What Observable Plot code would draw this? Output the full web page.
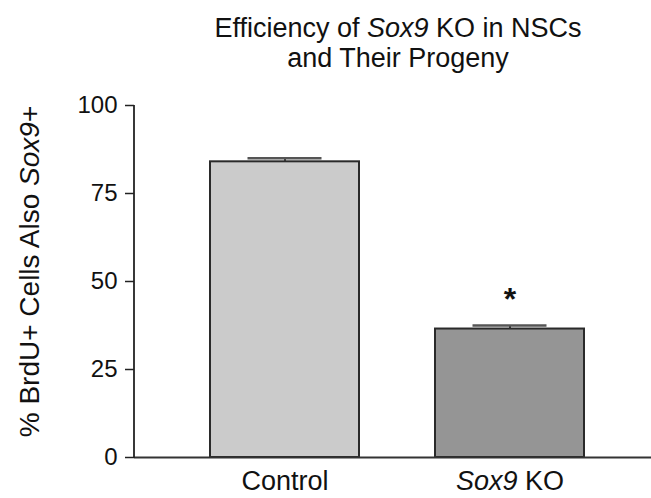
<!DOCTYPE html>
<html>
<head>
<meta charset="utf-8">
<script src="https://cdn.jsdelivr.net/npm/d3@7"></script>
<script src="https://cdn.jsdelivr.net/npm/@observablehq/plot@0.6"></script>
<style>
  html, body { margin: 0; padding: 0; background: #fff; }
  #wrap { width: 651px; height: 498px; position: relative; overflow: hidden; font-family: "Liberation Sans", Arial, sans-serif; }
  #title { box-sizing: border-box; height: 80px; margin-left: 145px; width: 506px; padding-top: 13px;
           text-align: center; font-size: 27px; line-height: 30px; color: #111; }
  #title i { font-style: italic; }
</style>
</head>
<body>
<div id="wrap">
  <div id="title">Efficiency of <i>Sox9</i> KO in NSCs<br>and Their Progeny</div>
  <div id="chart"></div>
</div>
<script>
// Percentage of BrdU+ cells that are also Sox9+, mean ± SEM
const groups = ["Control", "Sox9 KO"];
const means = [84, 36.5];
const sems = [1, 1];
const fills = ["#cbcbcb", "#959595"];
const significance = ["", "*"];
const yTicks = [0, 25, 50, 75, 100];
const yLabel = "% BrdU+ Cells Also Sox9+";

const rows = groups.map((g, i) => ({
  group: g, mean: means[i], sem: sems[i], fill: fills[i], sig: significance[i]
}));

const plot = Plot.plot({
  width: 651,
  height: 418,
  marginTop: 25,
  marginBottom: 41,
  marginLeft: 134,
  marginRight: 0,
  style: { fontFamily: "Liberation Sans, Arial, sans-serif", color: "#222", background: "#fff" },
  x: { domain: groups, range: [134, 660], padding: 0.336 },
  y: { domain: [0, 100] },
  marks: [
    Plot.barY(rows, { x: "group", y: "mean", fill: "fill", stroke: "#2a2a2a", strokeWidth: 2 }),
    Plot.ruleX(rows, { x: "group", y1: "mean", y2: d => d.mean + d.sem, stroke: "#333", strokeWidth: 2 }),
    Plot.tickY(rows, { x: "group", y: d => d.mean + d.sem, stroke: "#555", strokeWidth: 2.5, insetLeft: 37.5, insetRight: 37.5 }),
    Plot.text(rows.filter(d => d.sig), { x: "group", y: d => d.mean + d.sem, text: "sig", dy: -26, fontSize: 32, fontWeight: "bold", fill: "#111" }),
    Plot.axisY({ ticks: yTicks, tickSize: 9, tickPadding: 8, fontSize: 24, label: null, stroke: "#222", strokeWidth: 1.5, fill: "#111" }),
    Plot.axisX({ tickSize: 0, tickPadding: 13, fontSize: 27, label: null, fill: "#111" }),
    Plot.ruleY([0], { stroke: "#333", strokeWidth: 2 }),
    Plot.text([yLabel], { frameAnchor: "left", textAnchor: "middle", rotate: -90, dx: -104, dy: -10, fontSize: 28, fill: "#111" })
  ]
});

document.getElementById("chart").appendChild(plot);

// Vertical axis line along the left edge of the frame, spanning the y domain
const ys = plot.scale("y");
d3.select(plot).append("line")
  .attr("x1", 134).attr("x2", 134)
  .attr("y1", ys.apply(ys.domain[0]) + 1).attr("y2", ys.apply(ys.domain[1]))
  .attr("stroke", "#222").attr("stroke-width", 1.8);

// Italicise the gene name wherever it appears in SVG text
d3.select(plot).selectAll("text").each(function () {
  const el = d3.select(this);
  if (el.selectAll("tspan").size() > 0) return;
  const t = el.text();
  if (!t.includes("Sox9")) return;
  const [before, after] = t.split("Sox9");
  el.text(null);
  if (before) el.append("tspan").text(before);
  el.append("tspan").attr("font-style", "italic").text("Sox9");
  if (after) el.append("tspan").text(after);
});
</script>
</body>
</html>
